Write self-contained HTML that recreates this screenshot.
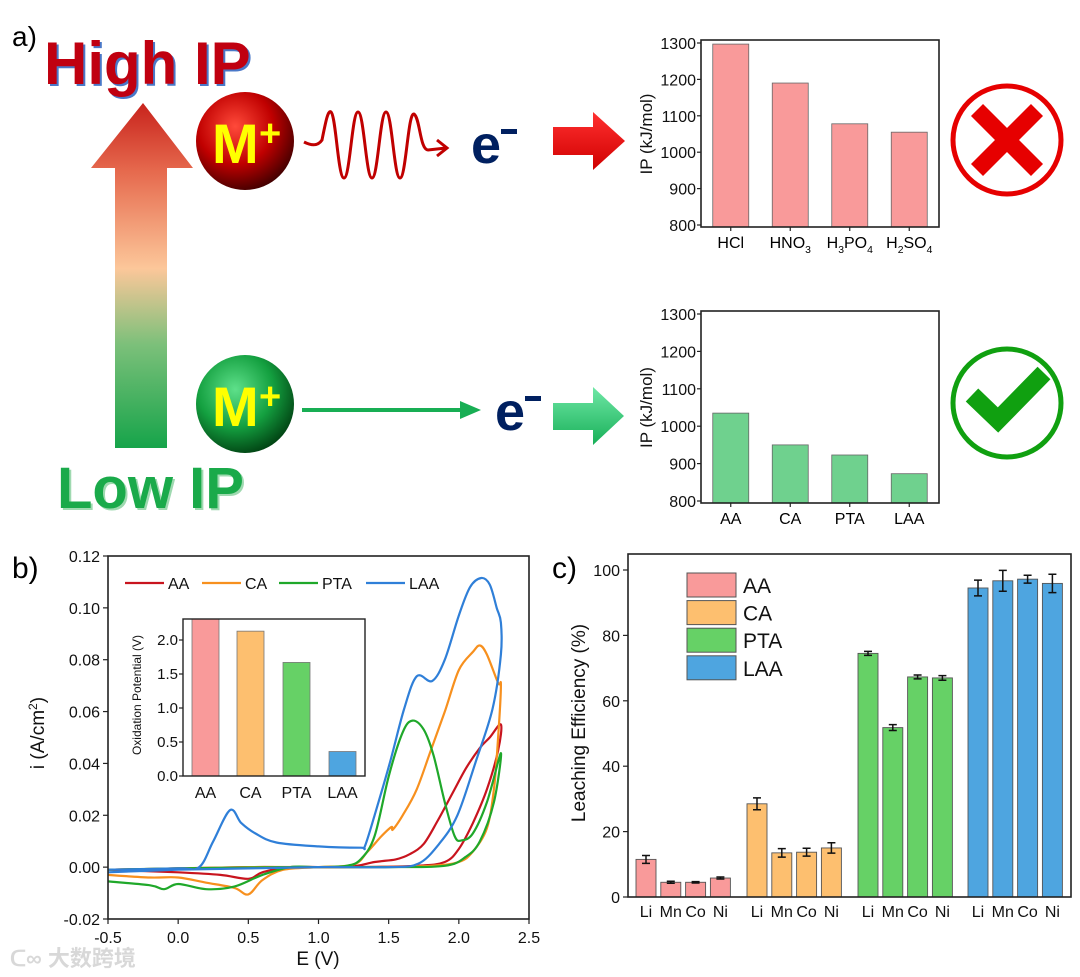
<!DOCTYPE html>
<html><head><meta charset="utf-8"><style>
html,body{margin:0;padding:0;background:#fff}
svg{display:block;font-family:"Liberation Sans","Noto Sans CJK SC",sans-serif}
</style></head><body>
<svg id="fig" width="1080" height="977" viewBox="0 0 1080 977" xmlns="http://www.w3.org/2000/svg">
<defs>
<linearGradient id="bigArrow" x1="0" y1="1" x2="0" y2="0">
<stop offset="0" stop-color="#16a44a"/><stop offset="0.3" stop-color="#7cc07a"/><stop offset="0.52" stop-color="#fcc79a"/><stop offset="0.8" stop-color="#e66a4e"/><stop offset="1" stop-color="#c8231c"/></linearGradient>
<radialGradient id="redBall" cx="0.4" cy="0.35" r="0.7"><stop offset="0" stop-color="#ff4a3a"/><stop offset="0.55" stop-color="#c00000"/><stop offset="1" stop-color="#3a0000"/></radialGradient>
<radialGradient id="greenBall" cx="0.4" cy="0.35" r="0.7"><stop offset="0" stop-color="#5ee08a"/><stop offset="0.55" stop-color="#14a040"/><stop offset="1" stop-color="#003d10"/></radialGradient>
<linearGradient id="redBlock" x1="0" y1="0" x2="0" y2="1"><stop offset="0" stop-color="#ff3030"/><stop offset="1" stop-color="#d00000"/></linearGradient>
<linearGradient id="greenBlock" x1="0" y1="0" x2="0" y2="1"><stop offset="0" stop-color="#6fe7a6"/><stop offset="1" stop-color="#18b058"/></linearGradient>
</defs>

<!-- Panel a schematic -->
<text x="12" y="46" font-size="28" fill="#000">a)</text>
<text x="46" y="86" font-size="60" font-weight="bold" fill="#4a78c8">High IP</text>
<text x="44" y="84" font-size="60" font-weight="bold" fill="#c00010">High IP</text>
<path d="M143,103 L193,168 L167,168 L167,448 L115,448 L115,168 L91,168 Z" fill="url(#bigArrow)"/>
<text x="59" y="510" font-size="58" font-weight="bold" fill="#9fd9b0">Low IP</text>
<text x="57" y="508" font-size="58" font-weight="bold" fill="#1aaa4a">Low IP</text>

<circle cx="245" cy="141" r="49" fill="url(#redBall)"/>
<text x="212" y="163" font-size="56" font-weight="bold" fill="#ffff00">M</text>
<text x="259" y="146" font-size="38" font-weight="bold" fill="#ffff00">+</text>
<circle cx="245" cy="404" r="49" fill="url(#greenBall)"/>
<text x="212" y="426" font-size="56" font-weight="bold" fill="#ffff00">M</text>
<text x="259" y="409" font-size="38" font-weight="bold" fill="#ffff00">+</text>

<path d="M304,142 C312,146 318,146 322,140 C326,120 328,110 331,112 C336,116 338,178 344,178 C350,178 352,112 358,112 C364,112 366,178 372,178 C378,178 380,112 386,112 C392,112 394,178 400,178 C406,178 408,112 414,114 C420,118 420,150 428,150 L446,148" fill="none" stroke="#c00000" stroke-width="3"/>
<path d="M437,140 L447,148 L437,156" fill="none" stroke="#c00000" stroke-width="3"/>
<text x="471" y="163" font-size="54" font-weight="bold" fill="#002060">e</text>
<rect x="501" y="129" width="16" height="5" fill="#002060"/>
<path d="M553,127 L593,127 L593,112 L625,141 L593,170 L593,155 L553,155 Z" fill="url(#redBlock)"/>

<line x1="302" y1="410" x2="468" y2="410" stroke="#18ae54" stroke-width="4"/>
<path d="M460,401 L481,410 L460,419 Z" fill="#18ae54"/>
<text x="495" y="430" font-size="54" font-weight="bold" fill="#002060">e</text>
<rect x="525" y="396" width="16" height="5" fill="#002060"/>
<path d="M553,403 L593,403 L593,387 L624,416 L593,445 L593,430 L553,430 Z" fill="url(#greenBlock)"/>

<!-- cross and check -->
<circle cx="1007" cy="140" r="54" fill="none" stroke="#e60000" stroke-width="5"/>
<path d="M977,110 L1037,170 M1037,110 L977,170" stroke="#e60000" stroke-width="17"/>
<circle cx="1007" cy="403" r="54" fill="none" stroke="#10a010" stroke-width="5"/>
<path d="M972,395 L998,420 L1044,373" fill="none" stroke="#10a010" stroke-width="18"/>

<g id="ipTop"></g>
<g id="ipBot"></g>
<g id="cv"></g>
<g id="leach"></g>

<text x="10" y="966" font-size="22" font-weight="bold" fill="#d8d8d8">ᑕ∞ 大数跨境</text>
</svg>
<script>
// ---- data ----
const acidCats = ["HCl","HNO3","H3PO4","H2SO4"];
const acidIP = [1297, 1190, 1078, 1055];
const redCats = ["AA","CA","PTA","LAA"];
const redIP = [1035, 950, 923, 873];
const ipTicks = [800,900,1000,1100,1200,1300];

const cvSeries = ["AA","CA","PTA","LAA"];
const cvColors = ["#c8141e","#f7901e","#1fa82a","#2f7fd8"];
const cvE_AA = [-0.5,0,0.3,0.5,0.6,0.8,1.2,1.4,1.55,1.65,1.75,1.85,1.95,2.05,2.15,2.22,2.3,2.28,2.2,2.1,2.0,1.9,1.7,1.2,0.8,0.5,0,-0.5];
const cvI_AA = [-0.001,-0.002,-0.003,-0.0045,-0.002,0,0,0.002,0.003,0.005,0.009,0.018,0.028,0.038,0.046,0.05,0.055,0.045,0.03,0.017,0.007,0.002,0.0005,0,0,0,-0.0005,-0.001];
const cvE_CA = [-0.5,-0.2,0,0.2,0.4,0.5,0.6,0.75,1.0,1.25,1.35,1.45,1.52,1.53,1.6,1.7,1.8,1.9,2.0,2.1,2.15,2.2,2.28,2.3,2.28,2.25,2.2,2.1,2.0,1.8,1.4,1.0,0.5,0,-0.5];
const cvI_CA = [-0.003,-0.004,-0.004,-0.006,-0.008,-0.0105,-0.005,-0.001,0,0.001,0.006,0.012,0.0155,0.0145,0.02,0.03,0.045,0.06,0.076,0.083,0.0855,0.082,0.071,0.07,0.05,0.03,0.015,0.006,0.002,0.0005,0,0,0,-0.0005,-0.001];
const cvE_PTA = [-0.5,-0.2,-0.1,0,0.2,0.4,0.6,0.8,1.0,1.2,1.3,1.4,1.5,1.6,1.67,1.75,1.82,1.9,1.97,2.02,2.1,2.2,2.3,2.25,2.15,2.05,1.9,1.5,0.8,0,-0.5];
const cvI_PTA = [-0.0055,-0.007,-0.0085,-0.0065,-0.0085,-0.0075,-0.003,0,0,0.0005,0.003,0.012,0.035,0.052,0.0565,0.053,0.043,0.025,0.012,0.0103,0.013,0.025,0.044,0.025,0.01,0.004,0.0005,0,0,-0.0005,-0.001];
const cvE_LAA = [-0.5,0,0.15,0.25,0.37,0.45,0.55,0.7,1.0,1.3,1.33,1.4,1.51,1.61,1.7,1.81,1.9,2.0,2.08,2.16,2.22,2.27,2.3,2.3,2.24,2.12,1.99,1.86,1.71,1.5,1.0,0.5,0,-0.5];
const cvI_LAA = [-0.001,-0.0005,0,0.01,0.022,0.017,0.013,0.0095,0.008,0.0075,0.008,0.02,0.0406,0.061,0.0736,0.0718,0.08,0.097,0.108,0.1115,0.109,0.1,0.0943,0.082,0.061,0.0406,0.02,0.009,0.0013,0,0,-0.0005,-0.001,-0.002];
const cvXTicks = [-0.5,0,0.5,1.0,1.5,2.0,2.5];
const cvYTicks = [-0.02,0,0.02,0.04,0.06,0.08,0.10,0.12];

const oxCats = ["AA","CA","PTA","LAA"];
const oxVals = [2.35, 2.13, 1.67, 0.36];
const oxTicks = [0,0.5,1.0,1.5,2.0];

const metals = ["Li","Mn","Co","Ni"];
const leachGroups = ["AA","CA","PTA","LAA"];
const leachAA = [11.5, 4.5, 4.5, 5.8];
const leachCA = [28.5, 13.5, 13.7, 15.0];
const leachPTA = [74.5, 51.8, 67.3, 67.0];
const leachLAA = [94.5, 96.7, 97.2, 95.9];
const errAA = [1.2, 0.3, 0.2, 0.3];
const errCA = [1.8, 1.3, 1.2, 1.6];
const errPTA = [0.6, 0.9, 0.6, 0.7];
const errLAA = [2.4, 3.2, 1.2, 2.8];
const leachTicks = [0,20,40,60,80,100];

// ---- helpers ----
const NS = "http://www.w3.org/2000/svg";
function mk(parent, tag, attrs, txt){const e=document.createElementNS(NS,tag);for(const k in attrs)e.setAttribute(k,attrs[k]);if(txt!==undefined)e.textContent=txt;parent.appendChild(e);return e;}
function chemLabel(parent, x, y, s, size){
  const t=mk(parent,"text",{x:x,y:y,"font-size":size,"text-anchor":"middle",fill:"#000"});
  const parts=s.match(/[A-Za-z]+|\d+/g);
  parts.forEach(p=>{const ts=document.createElementNS(NS,"tspan");
    if(/^\d+$/.test(p)){ts.setAttribute("font-size",size*0.65);ts.setAttribute("dy","5");}
    else if(t.childNodes.length && /^\d/.test(t.lastChild.textContent)){ts.setAttribute("dy","-5");}
    ts.textContent=p;t.appendChild(ts);});
  return t;
}
function smoothPath(P){
  let d="M"+P[0][0].toFixed(1)+","+P[0][1].toFixed(1);
  for(let i=0;i<P.length-1;i++){
    const p0=P[Math.max(0,i-1)],p1=P[i],p2=P[i+1],p3=P[Math.min(P.length-1,i+2)];
    const c1x=p1[0]+(p2[0]-p0[0])/6,c1y=p1[1]+(p2[1]-p0[1])/6;
    const c2x=p2[0]-(p3[0]-p1[0])/6,c2y=p2[1]-(p3[1]-p1[1])/6;
    d+=` C${c1x.toFixed(1)},${c1y.toFixed(1)} ${c2x.toFixed(1)},${c2y.toFixed(1)} ${p2[0].toFixed(1)},${p2[1].toFixed(1)}`;
  }
  return d;
}

// ---- IP charts ----
function ipChart(gid, cats, vals, top, bot, color, x0, x1){
  const g=document.getElementById(gid);
  const yv=v=>bot-(v-800)*(bot-top)/500;
  const frameTop=top-3;
  const xc=i=>x0+ (x1-x0)*(0.125+0.25*i);
  vals.forEach((v,i)=>{
    const r=mk(g,"rect",{x:xc(i)-18,y:yv(v),width:36,height:bot-yv(v)+2,fill:color,stroke:"#666","stroke-width":"0.8"});
    
    
  });
  const f=mk(g,"rect",{x:x0,y:frameTop,width:x1-x0,height:bot-frameTop+2,fill:"none",stroke:"#222","stroke-width":"1.6"});
  
  
  ipTicks.forEach(t=>{
    mk(g,"line",{x1:x0-4,x2:x0,y1:yv(t),y2:yv(t),stroke:"#222","stroke-width":"1.2"});
    const tl=mk(g,"text",{x:x0-5,y:yv(t)+6,"font-size":"16","text-anchor":"end",fill:"#111"},t);
    
    
  });
  cats.forEach((c,i)=>{
    mk(g,"line",{x1:xc(i),x2:xc(i),y1:bot+2,y2:bot+6,stroke:"#222","stroke-width":"1.2"});
    const l=chemLabel(g,xc(i),bot+23,c,16);
    
    
  });
  const yt=mk(g,"text",{x:0,y:0,"font-size":"17","text-anchor":"middle",fill:"#111",transform:`translate(652,${(top+bot)/2}) rotate(-90)`},"IP (kJ/mol)");
  
  
}
ipChart("ipTop", acidCats, acidIP, 43, 225, "#f99a9a", 701, 939);
ipChart("ipBot", redCats, redIP, 314, 501, "#6fd18e", 701, 939);

// ---- CV chart ----
(function(){
  const g=document.getElementById("cv");
  const L=108,R=529,T=556,B=919;
  const x=e=>L+(e+0.5)*(R-L)/3;
  const y=i=>B-(i+0.02)*(B-T)/0.14;
  mk(g,"text",{x:12,y:578,"font-size":"30",fill:"#000"},"b)");
  const Es=[cvE_AA,cvE_CA,cvE_PTA,cvE_LAA], Is=[cvI_AA,cvI_CA,cvI_PTA,cvI_LAA];
  Es.forEach((E,k)=>{
    const P=E.map((e,j)=>[x(e),y(Is[k][j])]);
    const p=mk(g,"path",{d:smoothPath(P),fill:"none",stroke:cvColors[k],"stroke-width":"2.2","stroke-linejoin":"round"});
    
    
  });
  const f=mk(g,"rect",{x:L,y:T,width:R-L,height:B-T,fill:"none",stroke:"#222","stroke-width":"1.6"});
  
  
  cvXTicks.forEach(t=>{
    mk(g,"line",{x1:x(t),x2:x(t),y1:B,y2:B+5,stroke:"#222","stroke-width":"1.2"});
    const l=mk(g,"text",{x:x(t),y:B+24,"font-size":"16","text-anchor":"middle",fill:"#111"},t.toFixed(1));
    
    
  });
  cvYTicks.forEach(t=>{
    mk(g,"line",{x1:L-5,x2:L,y1:y(t),y2:y(t),stroke:"#222","stroke-width":"1.2"});
    const l=mk(g,"text",{x:L-8,y:y(t)+6,"font-size":"16","text-anchor":"end",fill:"#111"},t.toFixed(2));
    
    
  });
  const xt=mk(g,"text",{x:318,y:965,"font-size":"19","text-anchor":"middle",fill:"#111"},"E (V)");
  
  
  const yt=mk(g,"text",{x:0,y:0,"font-size":"19","text-anchor":"middle",fill:"#111",transform:"translate(44,733) rotate(-90)"});
  yt.innerHTML='i (A/cm<tspan font-size="12" dy="-7">2</tspan><tspan dy="7">)</tspan>';
  
  
  const legX=[125,202,279,366];
  cvSeries.forEach((s,k)=>{
    const ln=mk(g,"line",{x1:legX[k],x2:legX[k]+39,y1:583,y2:583,stroke:cvColors[k],"stroke-width":"2.2"});
    
    
    const tx=mk(g,"text",{x:legX[k]+43,y:589,"font-size":"16",fill:"#111"},s);
    
    
  });
  // inset
  const iL=183,iR=365,iT=619,iB=776;
  const iy=v=>iB-v*68;
  const icol=["#f99a9a","#fdbf6f","#66d166","#4ea5e0"];
  const bx=[192,237,283,329];
  oxVals.forEach((v,k)=>{
    const top=Math.max(iy(v),iT);
    const r=mk(g,"rect",{x:bx[k],y:top,width:27,height:iB-top,fill:icol[k],stroke:"#777","stroke-width":"0.8"});
    
    
    const l=mk(g,"text",{x:bx[k]+13.5,y:iB+22,"font-size":"16","text-anchor":"middle",fill:"#111"},oxCats[k]);
    
    
  });
  const fi=mk(g,"rect",{x:iL,y:iT,width:iR-iL,height:iB-iT,fill:"none",stroke:"#222","stroke-width":"1.4"});
  
  
  oxTicks.forEach(t=>{
    mk(g,"line",{x1:iL-4,x2:iL,y1:iy(t),y2:iy(t),stroke:"#222","stroke-width":"1.2"});
    const l=mk(g,"text",{x:iL-5,y:iy(t)+5,"font-size":"15","text-anchor":"end",fill:"#111"},t.toFixed(1));
    
    
  });
  const it=mk(g,"text",{x:0,y:0,"font-size":"12","text-anchor":"middle",fill:"#111",transform:"translate(141,695) rotate(-90)"},"Oxidation Potential (V)");
  
  
})();

// ---- Leaching chart ----
(function(){
  const g=document.getElementById("leach");
  const L=628,R=1071,T=554,B=897;
  const y=v=>B-v*3.27;
  mk(g,"text",{x:552,y:578,"font-size":"30",fill:"#000"},"c)");
  const vals=[leachAA,leachCA,leachPTA,leachLAA], errs=[errAA,errCA,errPTA,errLAA];
  const cols=["#f99a9a","#fdbf6f","#66d166","#4ea5e0"];
  const gStart=[636,747,858,968];
  vals.forEach((arr,gi)=>{
    arr.forEach((v,mi)=>{
      const bx=gStart[gi]+mi*24.8;
      const r=mk(g,"rect",{x:bx,y:y(v),width:20,height:B-y(v),fill:cols[gi],stroke:"#555","stroke-width":"0.9"});
      
      
      const cx=bx+10,e=errs[gi][mi];
      const eb=mk(g,"path",{d:`M${cx},${y(v+e)} V${y(v-e)} M${cx-4},${y(v+e)} H${cx+4} M${cx-4},${y(v-e)} H${cx+4}`,stroke:"#111","stroke-width":"1.5",fill:"none"});
      
      
      const l=mk(g,"text",{x:cx,y:B+20,"font-size":"16","text-anchor":"middle",fill:"#111"},metals[mi]);
      
      
    });
  });
  const f=mk(g,"rect",{x:L,y:T,width:R-L,height:B-T,fill:"none",stroke:"#222","stroke-width":"1.6"});
  
  
  leachTicks.forEach(t=>{
    mk(g,"line",{x1:L-5,x2:L,y1:y(t),y2:y(t),stroke:"#222","stroke-width":"1.2"});
    const l=mk(g,"text",{x:L-8,y:y(t)+6,"font-size":"16","text-anchor":"end",fill:"#111"},t);
    
    
  });
  const yt=mk(g,"text",{x:0,y:0,"font-size":"19","text-anchor":"middle",fill:"#111",transform:"translate(585,723) rotate(-90)"},"Leaching Efficiency (%)");
  
  
  leachGroups.forEach((s,k)=>{
    const yy=573+k*27.6;
    const r=mk(g,"rect",{x:687,y:yy,width:49,height:24,fill:cols[k],stroke:"#555","stroke-width":"1"});
    
    
    const t=mk(g,"text",{x:743,y:yy+20,"font-size":"21",fill:"#111"},s);
    
    
  });
})();
</script>
</body></html>
